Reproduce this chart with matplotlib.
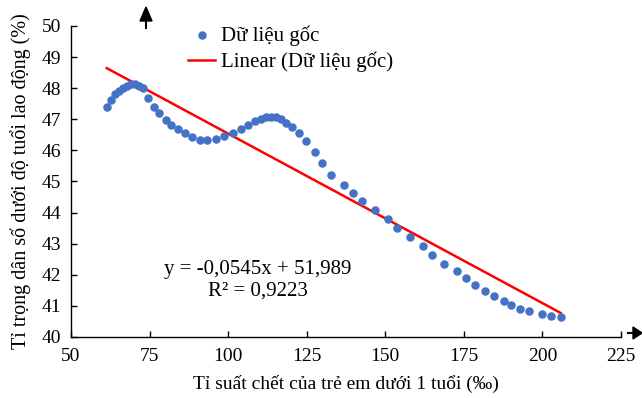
import matplotlib.pyplot as plt
import numpy as np

# Data
mortality = [61.4, 62.7, 64.0, 65.4, 66.6, 67.9, 69.2, 70.5, 71.7, 73.0,
             74.6, 76.4, 78.1, 80.1, 81.9, 84.1, 86.4, 88.6, 90.9, 93.3,
             96.0, 98.7, 101.4, 104.0, 106.3, 108.4, 110.4, 112.0, 113.5, 115.1,
             116.7, 118.3, 120.2, 122.7, 124.9, 127.7, 129.9, 132.8, 136.8, 139.7,
             142.7, 146.8, 150.8, 153.7, 157.8, 161.9, 164.9, 168.8, 172.7, 175.8,
             178.7, 181.7, 184.7, 187.7, 189.9, 192.9, 195.8, 199.8, 202.7, 205.8]
child_share = [47.39, 47.61, 47.80, 47.91, 48.02, 48.08, 48.12, 48.12, 48.08, 48.00,
               47.70, 47.39, 47.19, 46.98, 46.82, 46.68, 46.57, 46.44, 46.35, 46.33,
               46.37, 46.46, 46.57, 46.68, 46.83, 46.93, 47.02, 47.06, 47.08, 47.06,
               47.00, 46.89, 46.74, 46.57, 46.29, 45.96, 45.58, 45.22, 44.90, 44.64,
               44.38, 44.09, 43.79, 43.50, 43.21, 42.93, 42.63, 42.36, 42.12, 41.90,
               41.68, 41.49, 41.32, 41.17, 41.04, 40.91, 40.83, 40.75, 40.68, 40.63]
slope = -0.0545
intercept = 51.989
r2 = 0.9223

x_ticks = [50, 75, 100, 125, 150, 175, 200, 225]
y_ticks = [40, 41, 42, 43, 44, 45, 46, 47, 48, 49, 50]

plt.rcParams["font.family"] = ["Liberation Serif", "DejaVu Serif"]

fig = plt.figure(figsize=(6.42, 3.98), dpi=100)
ax = fig.add_axes([0.1106, 0.1533, 0.8567, 0.7814])

ax.scatter(mortality, child_share, s=26, color="#4472C4", zorder=3,
           label="Dữ liệu gốc")
xs = np.array([min(mortality), max(mortality)])
ax.plot(xs, slope * xs + intercept, color="#FF0000", linewidth=1.8, zorder=2,
        label="Linear (Dữ liệu gốc)")

ax.set_xlim(50, 225)
ax.set_ylim(40, 50)
ax.set_xticks(x_ticks)
ax.set_yticks(y_ticks)
for s in ("top", "right"):
    ax.spines[s].set_visible(False)
for s in ("left", "bottom"):
    ax.spines[s].set_linewidth(1.0)
ax.tick_params(direction="in", length=4, width=1, labelsize=14)
ax.tick_params(axis="x", pad=8)
ax.tick_params(axis="y", pad=7)

ax.set_xlabel("Tỉ suất chết của trẻ em dưới 1 tuổi (‰)", fontsize=14, labelpad=7)
ax.set_ylabel("Tỉ trọng dân số dưới độ tuổi lao động (%)", fontsize=14.5, labelpad=8)

eq = f"y = {slope:.4f}x + {intercept:.3f}".replace(".", ",")
ax.text(109.5, 41.82, eq + "\n" + f"R² = {r2:.4f}".replace(".", ","),
        fontsize=15, ha="center", va="center", linespacing=1.15)

ax.legend(loc="upper left", bbox_to_anchor=(188 / 642, 1 - 25 / 398),
          bbox_transform=fig.transFigure, frameon=False, fontsize=15,
          handlelength=1.3, handletextpad=0.3, labelspacing=0.3,
          borderpad=0, borderaxespad=0)

# arrows drawn beside the axes
fig.patches.append(plt.Polygon([[146 / 642, 1 - 7 / 398], [140 / 642, 1 - 21 / 398],
                                [152 / 642, 1 - 21 / 398]], closed=True,
                               color="black", transform=fig.transFigure))
fig.add_artist(plt.Line2D([146 / 642, 146 / 642], [1 - 20 / 398, 1 - 28 / 398],
                          color="black", linewidth=1.5, transform=fig.transFigure))
fig.patches.append(plt.Polygon([[642 / 642, 1 - 333 / 398], [633 / 642, 1 - 327 / 398],
                                [633 / 642, 1 - 339 / 398]], closed=True,
                               color="black", transform=fig.transFigure))
fig.add_artist(plt.Line2D([628 / 642, 634 / 642], [1 - 333 / 398, 1 - 333 / 398],
                          color="black", linewidth=1.5, transform=fig.transFigure))

fig.savefig("out.png", dpi=100)
